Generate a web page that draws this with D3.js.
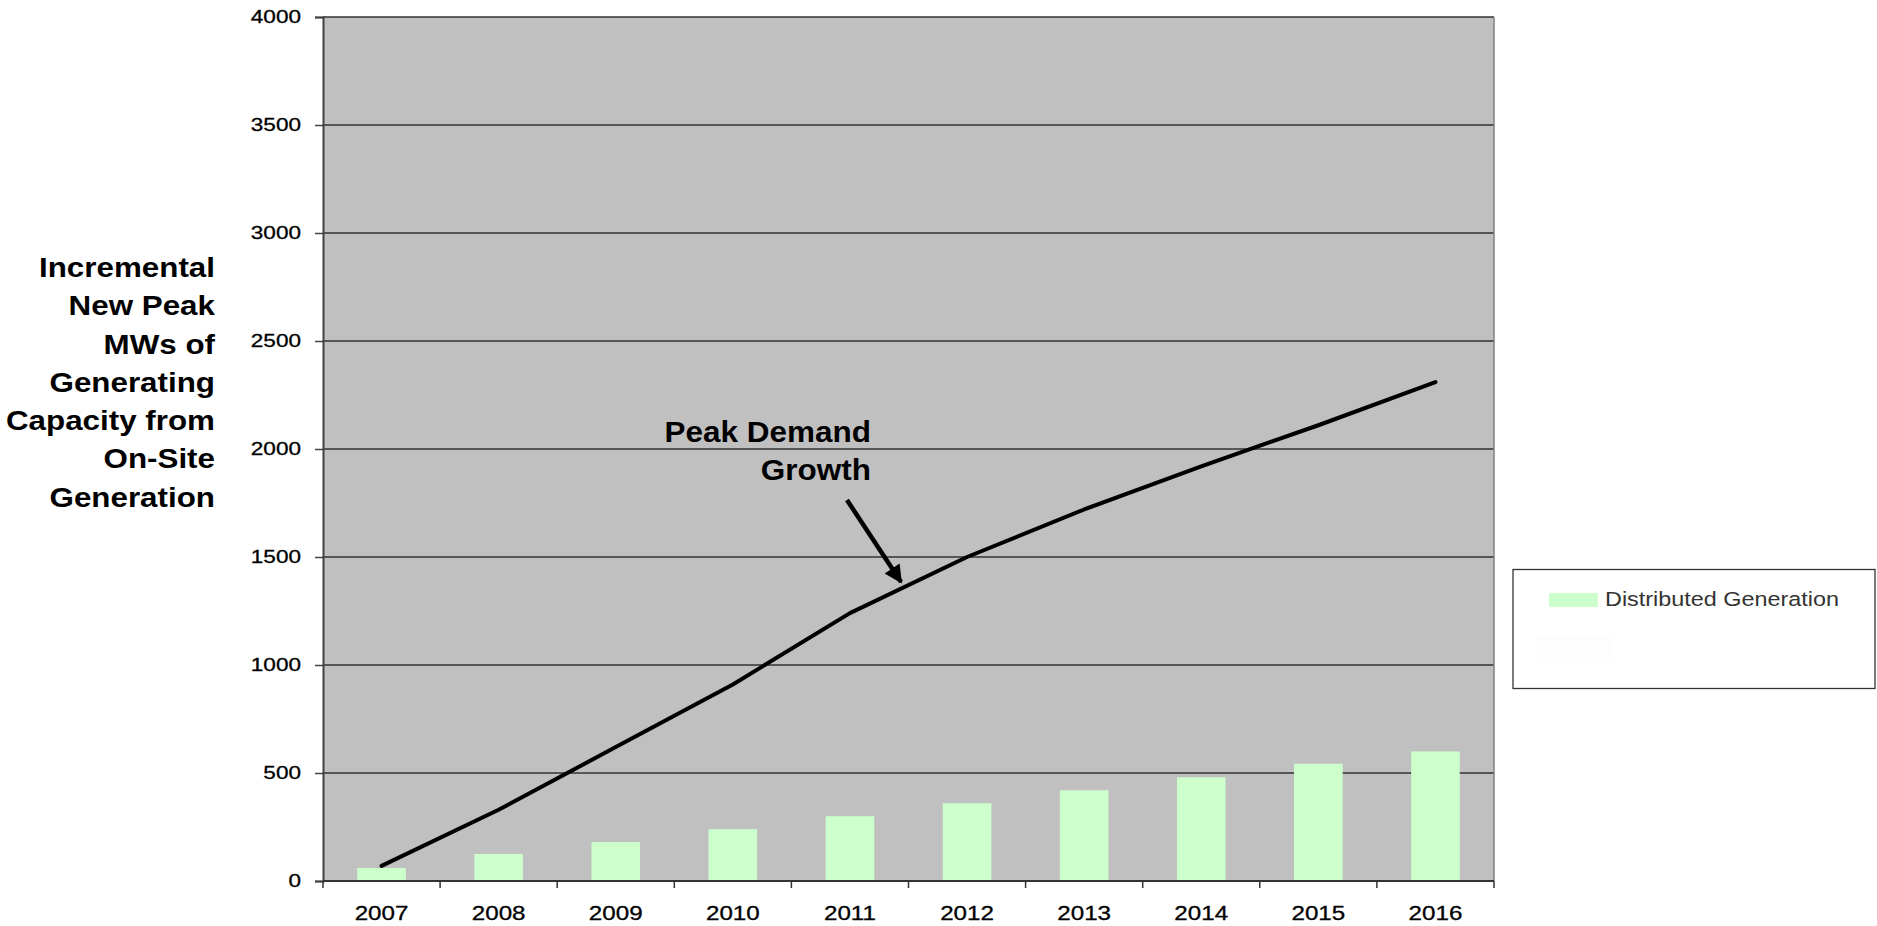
<!DOCTYPE html>
<html>
<head>
<meta charset="utf-8">
<script src="https://cdn.jsdelivr.net/npm/d3@7"></script>
<style>
  body { margin: 0; background: #fff; }
  text { font-family: Arial, "Liberation Sans", sans-serif; }
</style>
</head>
<body>
<svg width="1877" height="926"></svg>
<script>
var years = ['2007','2008','2009','2010','2011','2012','2013','2014','2015','2016'];
var distributedGen = [60,125,180,240,300,360,420,480,543,600];
var peakDemand = [70,330,620,910,1240,1500,1720,1920,2110,2310];
var yTicks = [0,500,1000,1500,2000,2500,3000,3500,4000];
var yLabelLines = ['Incremental','New Peak','MWs of','Generating','Capacity from','On-Site','Generation'];
var noteLines = ['Peak Demand','Growth'];
var legendLabel = 'Distributed Generation';

var plotLeft = 323, plotRight = 1494, plotTop = 17, plotBottom = 881;
var stretch = 1.2;   // source picture was widened, so text is a bit wide too

var svg = d3.select('svg');

var x = d3.scaleBand()
          .domain(years)
          .range([plotLeft, plotRight])
          .paddingInner(0.585)
          .paddingOuter(0.2925);
var y = d3.scaleLinear()
          .domain([0, 4000])
          .range([plotBottom, plotTop]);

// plot area
svg.append('rect')
   .attr('x', plotLeft).attr('y', plotTop)
   .attr('width', plotRight-plotLeft).attr('height', plotBottom-plotTop)
   .attr('fill', '#c0c0c0');

// gridlines
svg.append('g')
   .selectAll('line')
   .data(yTicks.filter(d=>d>0))
   .enter()
   .append('line')
     .attr('x1', plotLeft).attr('x2', plotRight)
     .attr('y1', d=>y(d)).attr('y2', d=>y(d))
     .attr('stroke', '#333')
     .attr('stroke-width', 1.6);

// right border
svg.append('line')
   .attr('x1', plotRight).attr('x2', plotRight)
   .attr('y1', plotTop).attr('y2', plotBottom)
   .attr('stroke', '#808080')
   .attr('stroke-width', 1.5);

// bars
svg.append('g')
   .selectAll('rect')
   .data(years)
   .enter()
   .append('rect')
     .attr('x', d=>x(d))
     .attr('width', x.bandwidth())
     .attr('y', (d,i)=>y(distributedGen[i]))
     .attr('height', (d,i)=>plotBottom - y(distributedGen[i]))
     .attr('fill', '#ccffcc');

// peak demand line
var line = d3.line()
             .x((d,i)=>x(years[i]) + x.bandwidth()/2)
             .y(d=>y(d));
svg.append('path')
   .datum(peakDemand)
   .attr('d', line)
   .attr('fill', 'none')
   .attr('stroke', '#000')
   .attr('stroke-width', 4)
   .attr('stroke-linecap', 'round')
   .attr('stroke-linejoin', 'round');

// y axis
var yAxis = svg.append('g')
               .attr('transform', `translate(${plotLeft},0)`)
               .call(d3.axisLeft(y).tickValues(yTicks).tickFormat(d3.format('d')).tickSize(8).tickPadding(14));
yAxis.select('.domain').attr('stroke', '#404040').attr('stroke-width', 2);
yAxis.selectAll('.tick line').attr('stroke', '#404040').attr('stroke-width', 1.5);
yAxis.selectAll('text')
     .attr('font-size', 18.5)
     .attr('fill', '#000')
     .attr('stroke', '#000')
     .attr('stroke-width', 0.3)
     .attr('x', -22/1.22)
     .attr('transform', 'scale(1.22,1)');

// x axis: labels centred, ticks on category boundaries
var xAxis = svg.append('g')
               .attr('transform', `translate(0,${plotBottom})`)
               .call(d3.axisBottom(x).tickSize(0).tickPadding(25));
xAxis.select('.domain').remove();
xAxis.selectAll('text')
     .attr('font-size', 19.5)
     .attr('fill', '#000')
     .attr('stroke', '#000')
     .attr('stroke-width', 0.3)
     .attr('transform', 'scale(1.24,1)');
svg.append('line')
   .attr('x1', plotLeft).attr('x2', plotRight)
   .attr('y1', plotBottom).attr('y2', plotBottom)
   .attr('stroke', '#333').attr('stroke-width', 2);
svg.append('g')
   .selectAll('line')
   .data(years.concat(['end']))
   .enter()
   .append('line')
     .attr('x1', (d,i)=> i < years.length ? x(d) - x.step()*x.paddingOuter() : plotRight)
     .attr('x2', (d,i)=> i < years.length ? x(d) - x.step()*x.paddingOuter() : plotRight)
     .attr('y1', plotBottom).attr('y2', plotBottom + 7)
     .attr('stroke', '#333').attr('stroke-width', 1.5);

// y axis title
var yTitle = svg.append('g')
                .attr('transform', 'translate(215,0) scale(1.12,1)');
yTitle.selectAll('text')
      .data(yLabelLines)
      .enter()
      .append('text')
        .attr('x', 0)
        .attr('y', (d,i)=>277 + i*38.3)
        .attr('text-anchor', 'end')
        .attr('font-size', 28)
        .attr('font-weight', 'bold')
        .text(d=>d);

// annotation
var note = svg.append('g')
              .attr('transform', 'translate(871,0) scale(1.05,1)');
note.selectAll('text')
    .data(noteLines)
    .enter()
    .append('text')
      .attr('x', 0)
      .attr('y', (d,i)=>442 + i*38)
      .attr('text-anchor', 'end')
      .attr('font-size', 30)
      .attr('font-weight', 'bold')
      .text(d=>d);

svg.append('defs')
   .append('marker')
     .attr('id', 'head')
     .attr('viewBox', '0 0 10 10')
     .attr('refX', 9).attr('refY', 5)
     .attr('markerWidth', 4.2).attr('markerHeight', 4)
     .attr('markerUnits', 'strokeWidth')
     .attr('orient', 'auto')
   .append('path')
     .attr('d', 'M0,0 L10,5 L0,10 Z')
     .attr('fill', '#000');
svg.append('line')
   .attr('x1', 847).attr('y1', 500)
   .attr('x2', 901).attr('y2', 582)
   .attr('stroke', '#000')
   .attr('stroke-width', 4.5)
   .attr('marker-end', 'url(#head)');

// legend
var legend = svg.append('g');
legend.append('rect')
      .attr('x', 1513).attr('y', 569.5)
      .attr('width', 362).attr('height', 119)
      .attr('fill', '#fff')
      .attr('stroke', '#333')
      .attr('stroke-width', 1.3);
legend.append('rect')
      .attr('x', 1549).attr('y', 593)
      .attr('width', 49).attr('height', 14)
      .attr('fill', '#ccffcc');
legend.append('rect')
      .attr('x', 1537).attr('y', 637)
      .attr('width', 76).attr('height', 21)
      .attr('fill', '#fdfdfd');
legend.append('g')
      .attr('transform', `translate(1605,606) scale(${stretch},1)`)
      .append('text')
        .attr('font-size', 19.5)
        .attr('fill', '#333')
        .text(legendLabel);
</script>
</body>
</html>
